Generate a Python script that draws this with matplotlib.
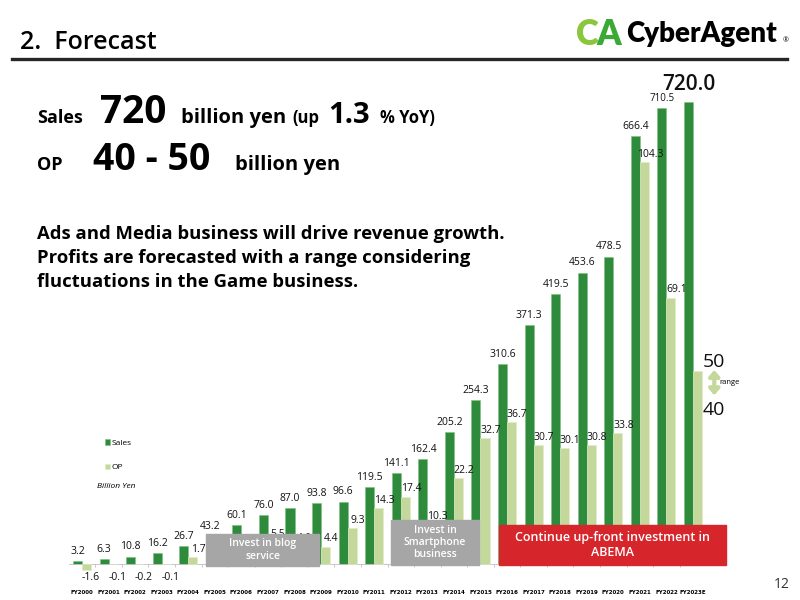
import matplotlib.pyplot as plt
import numpy as np
from matplotlib.patches import Rectangle

plt.rcParams['font.family'] = ['Open Sans', 'DejaVu Sans']

years = ['FY2000', 'FY2001', 'FY2002', 'FY2003', 'FY2004', 'FY2005', 'FY2006',
         'FY2007', 'FY2008', 'FY2009', 'FY2010', 'FY2011', 'FY2012', 'FY2013',
         'FY2014', 'FY2015', 'FY2016', 'FY2017', 'FY2018', 'FY2019', 'FY2020',
         'FY2021', 'FY2022', 'FY2023E']
sales = [3.2, 6.3, 10.8, 16.2, 26.7, 43.2, 60.1, 76.0, 87.0, 93.8, 96.6, 119.5,
         141.1, 162.4, 205.2, 254.3, 310.6, 371.3, 419.5, 453.6, 478.5, 666.4,
         710.5, 720.0]
op = [-1.6, -0.1, -0.2, -0.1, 1.7, 3.8, 4.3, 5.5, 4.6, 4.4, 9.3, 14.3, 17.4,
      10.3, 22.2, 32.7, 36.7, 30.7, 30.1, 30.8, 33.8, 104.3, 69.1, 50.0]
op_range = [40, 50]

DARK = '#2E8B3C'
LIGHT = '#C4D89C'
W, H = 800, 600


def fx(x):
    return x / W


def fy(y):
    return 1 - y / H


fig = plt.figure(figsize=(8, 6), dpi=100)

# chart area: category 0 at px 82, spacing 26.57 px, zero at px 563.5
ax = fig.add_axes([fx(68.7), fy(590), 637.6 / W, 520 / H])
ax2 = ax.twinx()
px_per_unit = 0.6414
ax.set_ylim(-26.5 / px_per_unit, 493.5 / px_per_unit)
ax2.set_ylim(np.array(ax.get_ylim()) / 6)
ax.set_xlim(-0.5, len(years) - 0.5)

x = np.arange(len(years))
w = 0.34
bs = ax.bar(x - w / 2, sales, w, color=DARK, edgecolor='#7FBF7F', linewidth=0.4)
bo = ax2.bar(x + w / 2, op, w, color=LIGHT, edgecolor='#E0EBC8', linewidth=0.4)

for i, v in enumerate(sales):
    fs, wt, off = 7.5, 'normal', 3
    if i == len(sales) - 1:
        fs, wt, off = 15, 'semibold', 5
    elif i == len(sales) - 2:
        fs = 7
    ax.annotate(f'{v:.1f}', (i - w / 2, v), xytext=(0, off), textcoords='offset points',
                ha='center', va='bottom', fontsize=fs, weight=wt, color='#111111')

for i, v in enumerate(op[:-1]):
    if v < 0:
        ax2.annotate(f'{v:.1f}', (i + w / 2, 0), xytext=(3, -6), textcoords='offset points',
                     ha='center', va='top', fontsize=7.5, color='#111111')
    else:
        ax2.annotate(f'{v:.1f}', (i + w / 2, v), xytext=(4, 1.5), textcoords='offset points',
                     ha='center', va='bottom', fontsize=7.5, color='#111111')

# forecast range
last = len(years) - 1
ax2.annotate(f'{op_range[1]}', (last + w / 2, op_range[1]), xytext=(12, 0),
             textcoords='offset points', ha='center', va='bottom', fontsize=14, color='#111111')
ax2.annotate(f'{op_range[0]}', (last + w / 2, op_range[0]), xytext=(12, 0),
             textcoords='offset points', ha='center', va='center', fontsize=14, color='#111111')
ax2.annotate('', xy=(last + 0.8, op_range[1] + 0.3), xytext=(last + 0.8, op_range[1] - 6.3),
             annotation_clip=False,
             arrowprops=dict(arrowstyle='<|-|>,head_length=0.35,head_width=0.3',
                             color=LIGHT, lw=3, shrinkA=0, shrinkB=0))
ax2.text(last + 1.0, op_range[1] - 3, 'range', fontsize=5.5, va='center', ha='left')

ax.spines[['top', 'right', 'left']].set_visible(False)
ax2.spines[:].set_visible(False)
ax.spines['bottom'].set_position(('data', 0))
ax.spines['bottom'].set_color('#BFBFBF')
ax.spines['bottom'].set_linewidth(0.6)
ax.set_yticks([])
ax2.set_yticks([])
ax.set_xticks(x)
ax.set_xticklabels(years, fontsize=4, fontweight='bold', family='DejaVu Sans')
ax.set_xticks(x[:-1] + 0.5, minor=True)
ax.tick_params(axis='x', which='major', length=0, pad=19)
ax.tick_params(axis='x', which='minor', length=2.5, color='#BFBFBF', width=0.6)

fig.legend([bs, bo], ['Sales', 'OP'], loc='upper left', bbox_to_anchor=(fx(97), fy(432)),
           frameon=False, fontsize=6, handlelength=0.6, handleheight=0.6,
           handletextpad=0.3, labelspacing=2.0)
fig.text(fx(97), fy(487), 'Billion Yen', fontsize=6, style='italic', va='center')

# investment boxes
boxes = [((206, 534, 319, 566), '#A6A6A6', 'Invest in blog\nservice', 7.5),
         ((391, 520, 479, 565), '#A6A6A6', 'Invest in\nSmartphone\nbusiness', 7.5),
         ((499, 525, 726, 565), '#D7262B', 'Continue up-front investment in\nABEMA', 9)]
for (x0, y0, x1, y1), col, txt, fs in boxes:
    fig.add_artist(Rectangle((fx(x0), fy(y1)), (x1 - x0) / W, (y1 - y0) / H,
                             transform=fig.transFigure, color=col, zorder=5))
    fig.text(fx((x0 + x1) / 2), fy((y0 + y1) / 2), txt, color='white', fontsize=fs,
             ha='center', va='center', weight='semibold', zorder=6, linespacing=1.15)

# header
fig.text(fx(20), fy(49), '2.  Forecast', fontsize=18, weight='semibold', va='baseline')
fig.add_artist(plt.Line2D([fx(12), fx(787)], [fy(59), fy(59)], color='#262626', lw=2.4))
fig.text(fx(576), fy(45), 'C', fontsize=25, weight='heavy', color='#8CC63F', va='baseline',
         family='Lato')
fig.text(fx(596), fy(45), 'A', fontsize=25, weight='heavy', color='#3AAA35', va='baseline',
         family='Lato')
fig.text(fx(626), fy(42), 'CyberAgent', fontsize=20, weight='heavy', color='black',
         va='baseline', family='Lato')
fig.text(fx(783), fy(42), '®', fontsize=5, color='black', va='baseline')

# headline
for xp, yp, txt, fs in [(37, 123, 'Sales', 13), (100, 123, '720', 28), (181, 123, 'billion yen', 14.5),
                        (292, 123, '(up', 12), (328, 123, '1.3', 21), (380, 123, '% YoY)', 12),
                        (37, 170, 'OP', 13), (93, 170, '40 - 50', 27), (235, 170, 'billion yen', 14.5)]:
    fig.text(fx(xp), fy(yp), txt, fontsize=fs, weight='bold', va='baseline')

for k, line in enumerate(['Ads and Media business will drive revenue growth.',
                          'Profits are forecasted with a range considering',
                          'fluctuations in the Game business.']):
    fig.text(fx(37), fy(239 + 24 * k), line, fontsize=13.3, weight='bold', va='baseline')

fig.text(fx(782), fy(585), '12', fontsize=10, color='#333333', ha='center', va='center')

fig.savefig('out.png', dpi=100)
